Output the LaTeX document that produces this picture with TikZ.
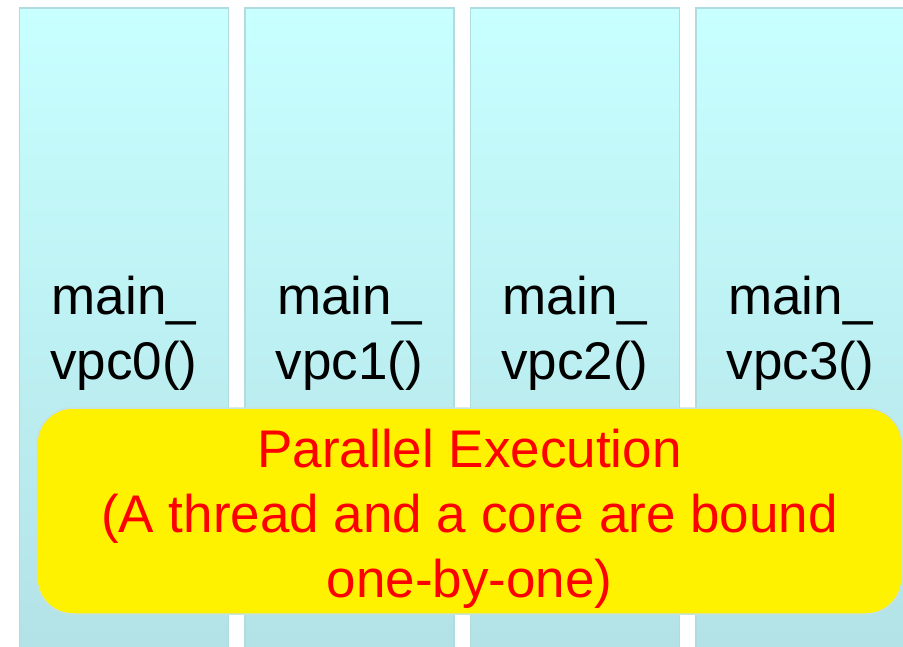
\documentclass[tikz,border=0pt]{standalone}
\usepackage{fontspec}
\setmainfont{Liberation Sans}
\usetikzlibrary{positioning}

\definecolor{coltop}{HTML}{C8FFFF}
\definecolor{colbot}{HTML}{B3E2E6}
\definecolor{coledge}{HTML}{B0DCE0}
\definecolor{boxedge}{HTML}{C4E2DE}

\tikzset{
  vpc/.style={draw=coledge, line width=1.6pt, top color=coltop, bottom color=colbot,
    minimum width=209pt, minimum height=650pt, inner sep=0pt, align=center,
    font=\fontsize{53}{65}\selectfont},
  parbox/.style={draw=boxedge, line width=1.5pt, fill=yellow, rounded corners=36pt,
    minimum width=865pt, minimum height=206pt},
  partext/.style={text=red, align=center, inner sep=0pt,
    font=\fontsize{53}{65}\selectfont}
}

\begin{document}
\begin{tikzpicture}[x=1pt,y=-1pt]
                \clip (0,0) rectangle (903,646);

                \node[vpc] (vpc0) at (124,333) {main\_\\vpc0()};
                \node[vpc, right=14.9pt of vpc0] (vpc1) {main\_\\vpc1()};
                \node[vpc, right=14.9pt of vpc1] (vpc2) {main\_\\vpc2()};
                \node[vpc, right=14.9pt of vpc2] (vpc3) {main\_\\vpc3()};

                \node[parbox] (par) at (469.5,511) {};
                \node[partext] (partxt) at (469.5,518.5)
                    {Parallel Execution\\(A thread and a core are bound\\one-by-one)};
            \end{tikzpicture}
\end{document}
